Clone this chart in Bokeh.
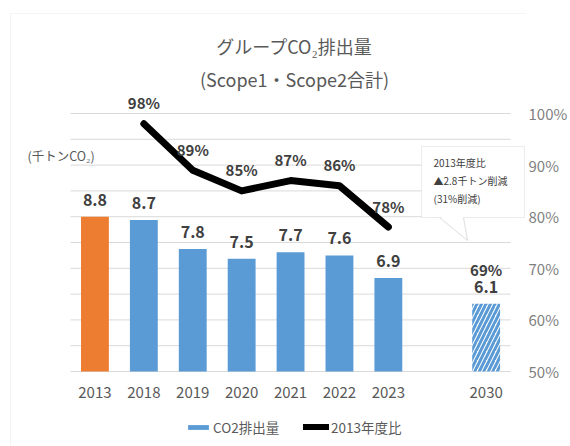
from bokeh.plotting import figure
from bokeh.models import (Range1d, LinearAxis, FixedTicker, Label, Legend, LegendItem,
                          BoxAnnotation, PolyAnnotation, PrintfTickFormatter)
from bokeh.core.properties import value
from bokeh.embed import file_html
from bokeh.resources import INLINE

# ---------------- data ----------------
years = ["2013", "2018", "2019", "2020", "2021", "2022", "2023", "2030"]
co2 = [8.8, 8.7, 7.8, 7.5, 7.7, 7.6, 6.9, 6.1]          # 千トンCO2
ratio_years = ["2018", "2019", "2020", "2021", "2022", "2023"]
ratio = [98, 89, 85, 87, 86, 78]                        # 2013年度比 (%)
target_year = "2030"
target_ratio = 69
pct_ticks = [50, 60, 70, 80, 90, 100]
title_lines = ["グループCO₂排出量", "(Scope1・Scope2合計)"]
unit_label = "(千トンCO₂)"
callout_lines = ["2013年度比", "▲2.8千トン削減", "(31%削減)"]
legend_labels = ["CO2排出量", "2013年度比"]

# category slots (one empty slot between 2023 and 2030)
slots_order = years[:7] + [""] + years[7:]
slot = {y: i for i, y in enumerate(slots_order) if y}

# ---------------- layout (page pixels) ----------------
FONT = "Noto Sans CJK JP"
W, H = 570, 446
FR_R = 526              # right edge of plotting frame (axis labels to its right)
BASE_Y = 371            # page y of the baseline (50% / 4.0)
TOP_Y = 113             # page y of 100%
SLOT_PX = 48.9
SLOT0_X = 94.45
PCT_MIN, PCT_TOP = 50, 100
CO2_MIN, CO2_TOP = 4.0, 12.0

px_per_pct = (BASE_Y - TOP_Y) / (PCT_TOP - PCT_MIN)
x_start = (0 - SLOT0_X) / SLOT_PX
x_end = (FR_R - SLOT0_X) / SLOT_PX
pct_lo = PCT_MIN - (H - BASE_Y) / px_per_pct
pct_hi = PCT_MIN + BASE_Y / px_per_pct
k = (CO2_TOP - CO2_MIN) / (PCT_TOP - PCT_MIN)
co2_lo = CO2_MIN + (pct_lo - PCT_MIN) * k
co2_hi = CO2_MIN + (pct_hi - PCT_MIN) * k


def sx(px):
    return px


def sy(py):
    return H - py


p = figure(width=W, height=H, x_range=Range1d(x_start, x_end), y_range=Range1d(co2_lo, co2_hi),
           x_axis_location=None, y_axis_location=None,
           output_backend="svg", toolbar_location=None,
           min_border_left=0, min_border_right=W - FR_R, min_border_top=0, min_border_bottom=0)
p.extra_y_ranges = {"pct": Range1d(pct_lo, pct_hi)}
p.outline_line_color = None
p.xgrid.visible = False
p.ygrid.visible = False

# x axis (category labels), drawn at the baseline
xax = LinearAxis(ticker=FixedTicker(ticks=[slot[y] for y in years]),
                 major_label_overrides={slot[y]: y for y in years}, fixed_location=CO2_MIN)
xax.axis_line_color = None
xax.major_tick_line_color = None
xax.minor_tick_line_color = None
xax.major_tick_out = 0
xax.major_tick_in = 0
xax.major_label_standoff = 15
xax.major_label_text_font = FONT
xax.major_label_text_font_size = "15px"
xax.major_label_text_color = "#595959"
p.add_layout(xax, "below")

# right axis (percent)
ax = LinearAxis(y_range_name="pct", ticker=FixedTicker(ticks=pct_ticks),
                formatter=PrintfTickFormatter(format="%d%%"))
ax.axis_line_color = None
ax.major_tick_line_color = None
ax.minor_tick_line_color = None
ax.major_tick_out = 0
ax.major_tick_in = 0
ax.major_label_standoff = 2
ax.major_label_text_font = FONT
ax.major_label_text_font_size = "15px"
ax.major_label_text_color = "#7f7f7f"
p.add_layout(ax, "right")

# chart border (top and left edges)
p.add_layout(BoxAnnotation(left=sx(10), right=sx(700), top=sy(13), bottom=sy(700),
                           left_units="screen", right_units="screen", top_units="screen",
                           bottom_units="screen", fill_alpha=0, line_color="#d9d9d9",
                           line_width=1, level="underlay"))

# horizontal gridlines across the category area only
grid_vals = list(range(50, 101, 5))
p.segment(x0=[-0.5] * len(grid_vals), x1=[len(slots_order) - 0.5] * len(grid_vals),
          y0=grid_vals, y1=grid_vals, y_range_name="pct", line_color="#d9d9d9", line_width=1)

BW = 0.57
bx = [slot[y] for y in years]
base = p.vbar(x=bx[:1], top=co2[:1], bottom=CO2_MIN, width=BW, fill_color="#ed7d31", line_color=None)
act = p.vbar(x=bx[1:7], top=co2[1:7], bottom=CO2_MIN, width=BW, fill_color="#5b9bd5", line_color=None)
tgt = p.vbar(x=bx[7:], top=co2[7:], bottom=CO2_MIN, width=BW, fill_color="white", line_color=None,
             hatch_pattern="/", hatch_color="#5b9bd5", hatch_weight=3, hatch_scale=9)

rx = [slot[y] for y in ratio_years]
ln = p.line(x=rx, y=ratio, y_range_name="pct", line_color="black", line_width=7,
            line_join="round", line_cap="round")

p.text(x=bx, y=co2, text=[f"{v:.1f}" for v in co2], text_align="center", text_baseline="middle",
       y_offset=-17, text_font=value(FONT), text_font_style="bold", text_font_size="16px",
       text_color="#404040")
p.text(x=rx, y=ratio, text=[f"{v}%" for v in ratio], y_range_name="pct",
       text_align="center", text_baseline="middle", y_offset=-21, text_font=value(FONT),
       text_font_style="bold", text_font_size="15px", text_color="#404040")
p.text(x=[slot[target_year]], y=[target_ratio], text=[f"{target_ratio}%"], y_range_name="pct",
       text_align="center", text_baseline="middle", y_offset=-4, text_font=value(FONT),
       text_font_style="bold", text_font_size="15px", text_color="#404040")

# titles
for t, yy in zip(title_lines, [45, 78]):
    p.add_layout(Label(x=sx(294), y=sy(yy), x_units="screen", y_units="screen", text=t,
                       text_align="center", text_baseline="middle", text_font=FONT,
                       text_font_size="18px", text_color="#595959"))
p.add_layout(Label(x=sx(27), y=sy(155), x_units="screen", y_units="screen", text=unit_label,
                   text_align="left", text_baseline="middle", text_font=FONT,
                   text_font_size="12.5px", text_color="#595959"))

# callout box with pointer
p.add_layout(BoxAnnotation(left=sx(421), right=sx(524), top=sy(146), bottom=sy(217),
                           left_units="screen", right_units="screen", top_units="screen",
                           bottom_units="screen", fill_color="white", fill_alpha=1,
                           line_color="#bfbfbf", line_width=1))
p.add_layout(PolyAnnotation(xs=[sx(439), sx(463), sx(467)], ys=[sy(215), sy(215), sy(240)],
                            xs_units="screen", ys_units="screen", fill_color="white", fill_alpha=1,
                            line_color=None))
p.add_layout(PolyAnnotation(xs=[sx(439), sx(467), sx(463), sx(467)],
                            ys=[sy(217), sy(240), sy(217), sy(240)],
                            xs_units="screen", ys_units="screen", fill_alpha=0,
                            line_color="#bfbfbf", line_width=1))
for t, yy in zip(callout_lines, [161.5, 180, 198]):
    p.add_layout(Label(x=sx(433), y=sy(yy), x_units="screen", y_units="screen", text=t,
                       text_align="left", text_baseline="middle", text_font=FONT,
                       text_font_size="10px", text_color="#404040"))

legend = Legend(items=[LegendItem(label=legend_labels[0], renderers=[act]),
                       LegendItem(label=legend_labels[1], renderers=[ln])],
                orientation="horizontal", location=(sx(185), sy(437)),
                glyph_width=26, glyph_height=6, label_height=14, label_width=76,
                label_standoff=2, spacing=14,
                padding=0, margin=0, border_line_color=None, background_fill_alpha=0,
                label_text_font=FONT, label_text_font_size="13.5px", label_text_color="#595959")
p.add_layout(legend)

open("out.html", "w").write(file_html(p, INLINE))
